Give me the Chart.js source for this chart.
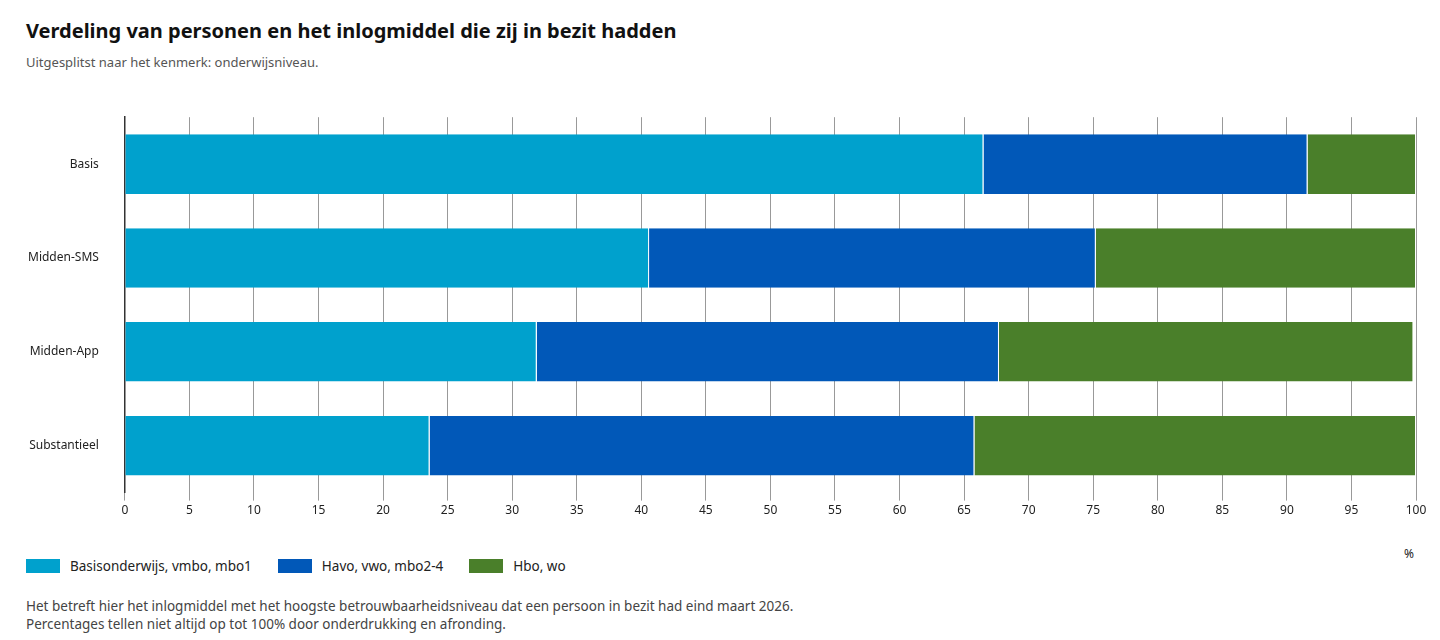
<!DOCTYPE html>
<html lang="nl">
<head>
<meta charset="UTF-8" />
<title>Verdeling inlogmiddel</title>
<script src="https://cdn.jsdelivr.net/npm/chart.js"></script>
<style>
  body { margin: 0; font-family: "Noto Sans", sans-serif; background: #fff; color: #222; }
  h1 { position: absolute; left: 26px; top: 17px; margin: 0; font-size: 20px; font-weight: bold; color: #111; }
  .sub { position: absolute; left: 26px; top: 53px; font-size: 13px; color: #555; }
  #wrap { position: absolute; left: 0; top: 92px; width: 1440px; height: 429px; }
  .legend { position: absolute; left: 26px; top: 557px; font-size: 13.5px; display: flex; gap: 0; }
  .legend span { display: inline-flex; align-items: center; margin-right: 26px; }
  .legend i { display: inline-block; width: 34px; height: 14px; margin-right: 10px; }
  .pct { position: absolute; left: 1404px; top: 545px; font-size: 12px; }
  .note { position: absolute; left: 26px; top: 597px; font-size: 13.5px; color: #444; line-height: 18px; }
</style>
</head>
<body>
  <h1>Verdeling van personen en het inlogmiddel die zij in bezit hadden</h1>
  <div class="sub">Uitgesplitst naar het kenmerk: onderwijsniveau.</div>
  <div id="wrap"><canvas id="c"></canvas></div>
  <div class="pct">%</div>
  <div class="legend" id="legend"></div>
  <div class="note">Het betreft hier het inlogmiddel met het hoogste betrouwbaarheidsniveau dat een persoon in bezit had eind maart 2026.<br>Percentages tellen niet altijd op tot 100% door onderdrukking en afronding.</div>
<script>
  const categories = ['Basis', 'Midden-SMS', 'Midden-App', 'Substantieel'];
  const seriesNames = ['Basisonderwijs, vmbo, mbo1', 'Havo, vwo, mbo2-4', 'Hbo, wo'];
  const basisVals = [66.5, 40.6, 31.9, 23.6];
  const havoVals = [25.1, 34.6, 35.8, 42.2];
  const hboVals = [8.4, 24.8, 32.1, 34.2];
  const colors = ['#00a1cd', '#0158b8', '#4a7f2a'];

  const legend = document.getElementById('legend');
  seriesNames.forEach((n, i) => {
    legend.innerHTML += `<span><i style="background:${colors[i]}"></i>${n}</span>`;
  });

  const ds = [basisVals, havoVals, hboVals].map((d, i) => ({
    label: seriesNames[i], data: d, backgroundColor: colors[i],
    borderColor: '#fff', borderWidth: { left: 0, right: 1, top: 0, bottom: 0 }, borderSkipped: false,
    categoryPercentage: 1, barPercentage: 0.635
  }));

  new Chart(document.getElementById('c'), {
    type: 'bar',
    data: { labels: categories, datasets: ds },
    options: {
      indexAxis: 'y', responsive: true, maintainAspectRatio: false, animation: false,
      layout: { padding: { left: 10, right: 24, top: 8, bottom: 0 } },
      plugins: { legend: { display: false }, tooltip: { enabled: false } },
      scales: {
        x: {
          stacked: true, min: 0, max: 100,
          ticks: { stepSize: 5, color: '#222', font: { family: 'Noto Sans', size: 12 } },
          grid: { color: '#999', lineWidth: 1, tickLength: 8, drawTicks: true },
          border: { display: false }
        },
        y: {
          stacked: true,
          ticks: { color: '#222', font: { family: 'Noto Sans', size: 12 }, padding: 18 },
          grid: { display: false },
          border: { display: true, color: '#333', width: 1.5 }
        }
      }
    }
  });
</script>
</body>
</html>
